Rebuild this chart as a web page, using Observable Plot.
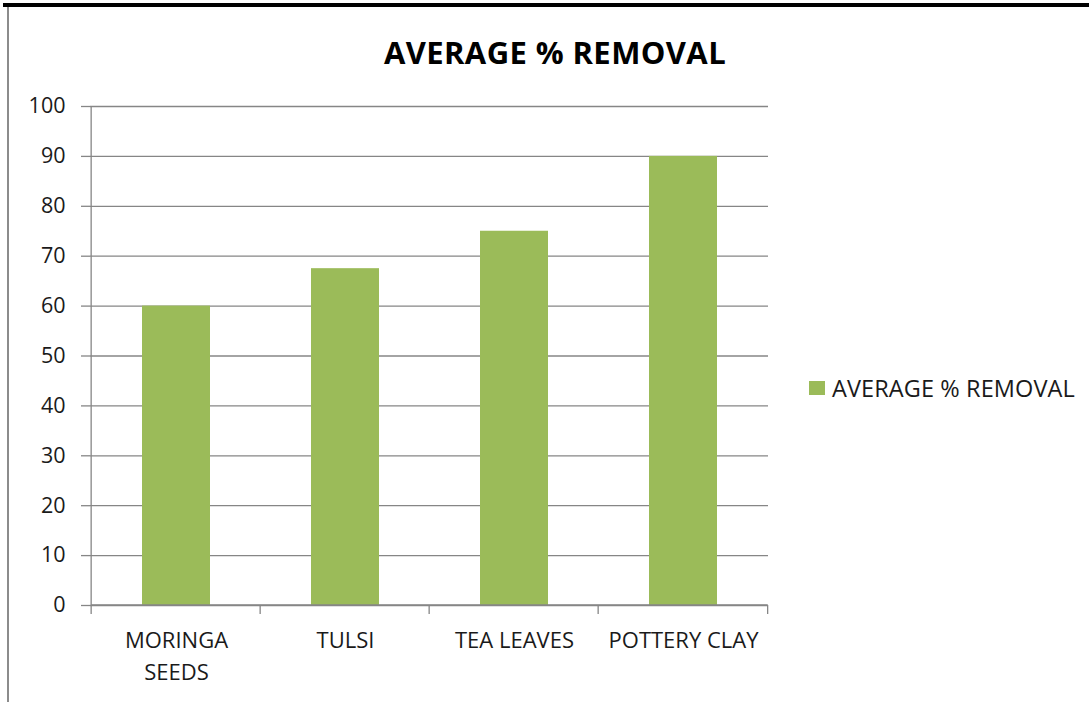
<!DOCTYPE html>
<html>
<head>
<meta charset="utf-8">
<script src="https://cdn.jsdelivr.net/npm/d3@7"></script>
<script src="https://cdn.jsdelivr.net/npm/@observablehq/plot@0.6"></script>
<style>
  html, body { margin: 0; padding: 0; background: #fff; }
  #wrap { position: relative; width: 1089px; height: 702px; overflow: hidden; font-family: "Open Sans", Lato, sans-serif; }
  #topborder { position: absolute; left: 3px; top: 3px; width: 1086px; height: 4px; background: #000; }
  #leftborder { position: absolute; left: 7px; top: 7px; width: 2px; height: 695px; background: #8c8c8c; }
  #title { position: absolute; left: 0; width: 1110px; top: 31px; text-align: center; font-weight: bold; font-size: 31px; color: #000; letter-spacing: 0.4px; }
  #legend { position: absolute; left: 809px; top: 372px; display: flex; align-items: center; font-size: 23.5px; color: #1a1a1a; letter-spacing: 0.1px; }
  #legend .sw { width: 16px; height: 14px; background: #9bbb59; margin-right: 7px; }
  #chart { position: absolute; left: 0; top: 0; }
</style>
</head>
<body>
<div id="wrap">
  <div id="chart"></div>
  <div id="topborder"></div>
  <div id="leftborder"></div>
  <div id="title">AVERAGE % REMOVAL</div>
  <div id="legend"><div class="sw"></div><span>AVERAGE % REMOVAL</span></div>
</div>
<script>
const categories = ["MORINGA SEEDS", "TULSI", "TEA LEAVES", "POTTERY CLAY"];
const values = [60, 67.5, 75, 90];
const yTicks = [0, 10, 20, 30, 40, 50, 60, 70, 80, 90, 100];
const seriesName = "AVERAGE % REMOVAL";

const data = categories.map((c, i) => ({category: c, value: values[i]}));

const W = 1089, H = 702;
const mL = 90, mR = 321, mT = 106, mB = 97;
const step = (W - mL - mR) / categories.length;
const gridColor = "#868686";

const labelLines = {
  "MORINGA SEEDS": "MORINGA\nSEEDS"
};

const plot = Plot.plot({
  width: W,
  height: H,
  marginLeft: mL,
  marginRight: mR,
  marginTop: mT,
  marginBottom: mB,
  style: { fontFamily: "'Open Sans', Lato, sans-serif", background: "transparent" },
  x: { domain: categories, paddingInner: 0.6, paddingOuter: 0.3, align: 0.5, label: null },
  y: { domain: [0, 100], ticks: yTicks, label: null },
  marks: [
    Plot.gridY(yTicks, { stroke: gridColor, strokeOpacity: 1, strokeWidth: 1.3 }),
    Plot.barY(data, { x: "category", y: "value", fill: "#9bbb59" }),
    Plot.axisY(yTicks, { tickSize: 9, stroke: gridColor, strokeWidth: 1.3, tickPadding: 16, fontSize: 21.5, fill: "#1a1a1a" }),
    Plot.axisX({ tickSize: 0, tickPadding: 20, fontSize: 22, fill: "#1a1a1a",
      tickFormat: d => labelLines[d] || d, lineHeight: 1.45 })
  ]
});

document.getElementById("chart").appendChild(plot);

// axis lines & category-boundary ticks, positioned through the plot's own scales
const xs = plot.scale("x"), ys = plot.scale("y");
const svg = d3.select(plot);
const y0 = ys.apply(0), y100 = ys.apply(100);
const bounds = categories.map(c => xs.apply(c) - 0.3 * step);
const right = bounds[bounds.length - 1] + step;
bounds.push(right);
const left = bounds[0];
const g = svg.append("g").attr("stroke", gridColor).attr("stroke-width", 1.3);
g.append("line").attr("x1", left).attr("x2", left).attr("y1", y100).attr("y2", y0);
g.append("line").attr("x1", left).attr("x2", right).attr("y1", y0).attr("y2", y0);
bounds.forEach(bx => g.append("line").attr("x1", bx).attr("x2", bx).attr("y1", y0).attr("y2", y0 + 9));
</script>
</body>
</html>
